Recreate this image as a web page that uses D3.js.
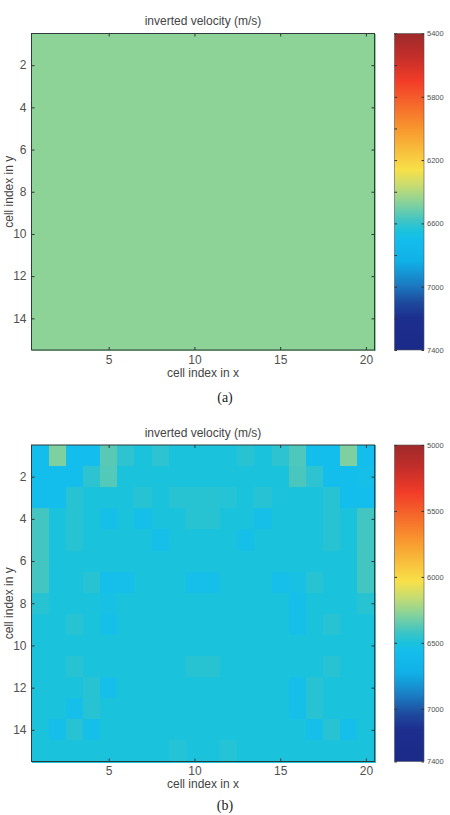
<!DOCTYPE html>
<html>
<head>
<meta charset="utf-8">
<script src="https://cdn.jsdelivr.net/npm/d3@7"></script>
<style>
  html, body { margin: 0; padding: 0; background: #fff; }
  svg { display: block; }
  text { font-family: "Liberation Sans", Arial, sans-serif; }
</style>
</head>
<body>
<div id="chart"></div>
<script>
// grid size: 20 cells in x, 15 cells in y
const cellsX = d3.range(1, 21);
const cellsY = d3.range(1, 16);
const xTicks = [5, 10, 15, 20];
const yTicks = [2, 4, 6, 8, 10, 12, 14];

// (a) initial / inverted model, uniform
const velocityA = [
  [6460, 6460, 6460, 6460, 6460, 6460, 6460, 6460, 6460, 6460, 6460, 6460, 6460, 6460, 6460, 6460, 6460, 6460, 6460, 6460],
  [6460, 6460, 6460, 6460, 6460, 6460, 6460, 6460, 6460, 6460, 6460, 6460, 6460, 6460, 6460, 6460, 6460, 6460, 6460, 6460],
  [6460, 6460, 6460, 6460, 6460, 6460, 6460, 6460, 6460, 6460, 6460, 6460, 6460, 6460, 6460, 6460, 6460, 6460, 6460, 6460],
  [6460, 6460, 6460, 6460, 6460, 6460, 6460, 6460, 6460, 6460, 6460, 6460, 6460, 6460, 6460, 6460, 6460, 6460, 6460, 6460],
  [6460, 6460, 6460, 6460, 6460, 6460, 6460, 6460, 6460, 6460, 6460, 6460, 6460, 6460, 6460, 6460, 6460, 6460, 6460, 6460],
  [6460, 6460, 6460, 6460, 6460, 6460, 6460, 6460, 6460, 6460, 6460, 6460, 6460, 6460, 6460, 6460, 6460, 6460, 6460, 6460],
  [6460, 6460, 6460, 6460, 6460, 6460, 6460, 6460, 6460, 6460, 6460, 6460, 6460, 6460, 6460, 6460, 6460, 6460, 6460, 6460],
  [6460, 6460, 6460, 6460, 6460, 6460, 6460, 6460, 6460, 6460, 6460, 6460, 6460, 6460, 6460, 6460, 6460, 6460, 6460, 6460],
  [6460, 6460, 6460, 6460, 6460, 6460, 6460, 6460, 6460, 6460, 6460, 6460, 6460, 6460, 6460, 6460, 6460, 6460, 6460, 6460],
  [6460, 6460, 6460, 6460, 6460, 6460, 6460, 6460, 6460, 6460, 6460, 6460, 6460, 6460, 6460, 6460, 6460, 6460, 6460, 6460],
  [6460, 6460, 6460, 6460, 6460, 6460, 6460, 6460, 6460, 6460, 6460, 6460, 6460, 6460, 6460, 6460, 6460, 6460, 6460, 6460],
  [6460, 6460, 6460, 6460, 6460, 6460, 6460, 6460, 6460, 6460, 6460, 6460, 6460, 6460, 6460, 6460, 6460, 6460, 6460, 6460],
  [6460, 6460, 6460, 6460, 6460, 6460, 6460, 6460, 6460, 6460, 6460, 6460, 6460, 6460, 6460, 6460, 6460, 6460, 6460, 6460],
  [6460, 6460, 6460, 6460, 6460, 6460, 6460, 6460, 6460, 6460, 6460, 6460, 6460, 6460, 6460, 6460, 6460, 6460, 6460, 6460],
  [6460, 6460, 6460, 6460, 6460, 6460, 6460, 6460, 6460, 6460, 6460, 6460, 6460, 6460, 6460, 6460, 6460, 6460, 6460, 6460]
];

// (b) inverted model
const velocityB = [
  [6560, 6300, 6560, 6560, 6370, 6460, 6500, 6460, 6500, 6500, 6500, 6500, 6470, 6500, 6460, 6390, 6560, 6560, 6300, 6560],
  [6560, 6560, 6560, 6460, 6380, 6500, 6500, 6500, 6500, 6500, 6500, 6500, 6500, 6500, 6500, 6400, 6460, 6560, 6560, 6540],
  [6560, 6560, 6470, 6500, 6500, 6500, 6470, 6500, 6470, 6470, 6470, 6480, 6500, 6470, 6500, 6500, 6500, 6470, 6560, 6560],
  [6410, 6500, 6470, 6500, 6540, 6500, 6540, 6500, 6500, 6470, 6470, 6500, 6500, 6540, 6500, 6500, 6500, 6470, 6500, 6410],
  [6410, 6500, 6470, 6500, 6500, 6500, 6500, 6550, 6500, 6500, 6500, 6500, 6540, 6500, 6500, 6500, 6500, 6470, 6500, 6410],
  [6410, 6500, 6500, 6500, 6500, 6500, 6500, 6500, 6500, 6500, 6500, 6500, 6500, 6500, 6500, 6500, 6500, 6500, 6500, 6410],
  [6410, 6500, 6500, 6470, 6550, 6550, 6500, 6500, 6500, 6550, 6550, 6500, 6500, 6500, 6550, 6530, 6470, 6500, 6500, 6410],
  [6470, 6500, 6500, 6500, 6530, 6500, 6500, 6500, 6500, 6500, 6500, 6500, 6500, 6500, 6500, 6550, 6500, 6500, 6500, 6470],
  [6500, 6500, 6470, 6500, 6540, 6500, 6500, 6500, 6500, 6500, 6500, 6500, 6500, 6500, 6500, 6540, 6500, 6470, 6500, 6500],
  [6500, 6500, 6500, 6500, 6500, 6500, 6500, 6500, 6500, 6500, 6500, 6500, 6500, 6500, 6500, 6500, 6500, 6500, 6500, 6500],
  [6500, 6500, 6470, 6500, 6500, 6500, 6500, 6500, 6500, 6470, 6470, 6500, 6500, 6500, 6500, 6500, 6500, 6470, 6500, 6500],
  [6500, 6500, 6500, 6470, 6550, 6500, 6500, 6500, 6500, 6500, 6500, 6500, 6500, 6500, 6500, 6550, 6470, 6500, 6500, 6500],
  [6500, 6500, 6550, 6470, 6500, 6500, 6500, 6500, 6500, 6500, 6500, 6500, 6500, 6500, 6500, 6540, 6470, 6500, 6500, 6500],
  [6500, 6550, 6470, 6550, 6500, 6500, 6500, 6500, 6500, 6500, 6500, 6500, 6500, 6500, 6500, 6500, 6550, 6470, 6550, 6500],
  [6500, 6500, 6500, 6500, 6500, 6500, 6500, 6500, 6480, 6500, 6500, 6480, 6500, 6500, 6500, 6500, 6500, 6500, 6500, 6500]
];

// colour bars
const domainA = [5400, 7400];
const cbarTicksA = [5400, 5800, 6200, 6600, 7000, 7400];
const cbarMinorA = [5600, 6000, 6400, 6800, 7200];
const domainB = [5000, 7400];
const cbarTicksB = [5000, 5500, 6000, 6500, 7000, 7400];
const cbarMinorB = [];

// jet-like colormap, position measured from the bottom (slow = red at top)
const cmapPos = [0, 0.10, 0.15, 0.21, 0.28, 0.35, 0.375, 0.41, 0.47, 0.52, 0.57, 0.70, 0.85, 0.93, 1];
const cmapCol = ['#1b2a88', '#1c2e8e', '#1e4a9e', '#1a7ec4', '#10b0e6', '#14beec', '#1bc2dc', '#40c5c4',
  '#8dd397', '#c8dc70', '#f8e048', '#f8962e', '#f23c28', '#c22e2a', '#9e2a2a'];
const cmap = d3.scaleLinear().domain(cmapPos).range(cmapCol).interpolate(d3.interpolateRgb).clamp(true);

const width = 450, height = 815;
const svg = d3.select('#chart').append('svg')
  .attr('width', width)
  .attr('height', height);

const defs = svg.append('defs');
const grad = defs.append('linearGradient')
  .attr('id', 'jet')
  .attr('x1', 0).attr('y1', 1).attr('x2', 0).attr('y2', 0);
grad.selectAll('stop')
  .data(cmapPos)
  .join('stop')
  .attr('offset', d => d)
  .attr('stop-color', (d, i) => cmapCol[i]);

function drawPanel(opts) {
  const { data, domain, cbarTicks, cbarMinor, top, bottom, label, labelY, xLabelDy } = opts;
  const x = d3.scaleLinear().domain([0.5, 20.5]).range([31.5, 374.5]);
  const y = d3.scaleLinear().domain([0.5, 15.5]).range([top, bottom]);
  const toT = v => (domain[1] - v) / (domain[1] - domain[0]);

  const g = svg.append('g');

  // cells
  const cells = [];
  cellsY.forEach((r, i) => cellsX.forEach((c, j) => cells.push({ r, c, v: data[i][j] })));
  g.append('g')
    .attr('shape-rendering', 'crispEdges')
    .selectAll('rect')
    .data(cells)
    .join('rect')
    .attr('x', d => Math.round(x(d.c - 0.5)))
    .attr('y', d => Math.round(y(d.r - 0.5)))
    .attr('width', d => Math.round(x(d.c + 0.5)) - Math.round(x(d.c - 0.5)) + 1)
    .attr('height', d => Math.round(y(d.r + 0.5)) - Math.round(y(d.r - 0.5)) + 1)
    .attr('fill', d => cmap(toT(d.v)));

  // axes (inside ticks, matlab style)
  const styleAxis = sel => {
    sel.select('.domain').remove();
    sel.selectAll('line').attr('stroke', '#333');
    sel.selectAll('text').attr('fill', '#505050').style('font-size', '12px');
  };
  g.append('g').attr('transform', `translate(0,${bottom})`)
    .call(d3.axisBottom(x).tickValues(xTicks).tickSize(-3).tickPadding(5))
    .call(styleAxis);
  g.append('g').attr('transform', `translate(0,${top})`)
    .call(d3.axisTop(x).tickValues(xTicks).tickSize(-3).tickFormat(''))
    .call(styleAxis);
  g.append('g').attr('transform', `translate(31.5,0)`)
    .call(d3.axisLeft(y).tickValues(yTicks).tickSize(-3).tickPadding(5))
    .call(styleAxis);
  g.append('g').attr('transform', `translate(374.5,0)`)
    .call(d3.axisRight(y).tickValues(yTicks).tickSize(-3).tickFormat(''))
    .call(styleAxis);

  g.append('rect')
    .attr('x', 31.5).attr('y', top)
    .attr('width', 343).attr('height', bottom - top)
    .attr('fill', 'none')
    .attr('stroke', '#2f3b3b')
    .attr('stroke-width', 1);

  // labels
  g.append('text')
    .attr('x', 203).attr('y', top - 8.5)
    .attr('text-anchor', 'middle')
    .attr('fill', '#444')
    .style('font-size', '12px')
    .text('inverted velocity (m/s)');
  g.append('text')
    .attr('x', 203).attr('y', bottom + xLabelDy)
    .attr('text-anchor', 'middle')
    .attr('fill', '#444')
    .style('font-size', '12px')
    .text('cell index in x');
  g.append('text')
    .attr('transform', `translate(13,${(top + bottom) / 2}) rotate(-90)`)
    .attr('text-anchor', 'middle')
    .attr('fill', '#444')
    .style('font-size', '12px')
    .text('cell index in y');
  g.append('text')
    .attr('x', 225).attr('y', labelY)
    .attr('text-anchor', 'middle')
    .attr('fill', '#222')
    .style('font-family', '"Liberation Serif", "Times New Roman", serif')
    .style('font-size', '14px')
    .text(label);

  // colour bar
  const cb = d3.scaleLinear().domain(domain).range([top, bottom]);
  const cbx0 = 394.5, cbx1 = 424;
  g.append('rect')
    .attr('x', cbx0).attr('y', top)
    .attr('width', cbx1 - cbx0).attr('height', bottom - top)
    .attr('fill', 'url(#jet)')
    .attr('stroke', '#555')
    .attr('stroke-width', 0.6);
  g.append('g').attr('transform', `translate(${cbx1},0)`)
    .call(d3.axisRight(cb).tickValues(cbarTicks).tickSize(-2.5).tickPadding(3).tickFormat(d3.format('d')))
    .call(styleAxis)
    .call(s => s.selectAll('text').style('font-size', '7.5px'));
  g.append('g').attr('transform', `translate(${cbx0},0)`)
    .call(d3.axisLeft(cb).tickValues(cbarTicks.concat(cbarMinor)).tickSize(-2.5).tickFormat(''))
    .call(styleAxis);
}

drawPanel({ data: velocityA, domain: domainA, cbarTicks: cbarTicksA, cbarMinor: cbarMinorA,
  top: 33.5, bottom: 350, label: '(a)', labelY: 402, xLabelDy: 27 });
drawPanel({ data: velocityB, domain: domainB, cbarTicks: cbarTicksB, cbarMinor: cbarMinorB,
  top: 445, bottom: 761.5, label: '(b)', labelY: 810, xLabelDy: 26.5 });
</script>
</body>
</html>
